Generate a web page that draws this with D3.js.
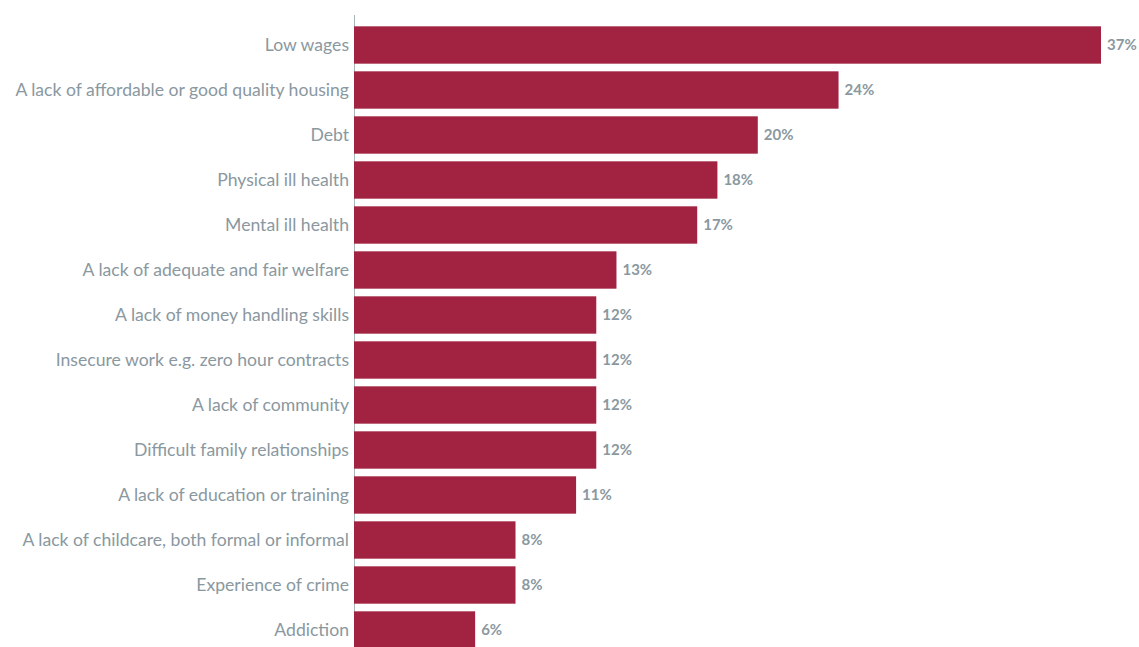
<!DOCTYPE html>
<html>
<head>
<meta charset="utf-8">
<script src="https://cdn.jsdelivr.net/npm/d3@7"></script>
<style>
  html, body { margin: 0; padding: 0; background: #fff; }
  svg { display: block; }
</style>
</head>
<body>
<svg id="chart" width="1139" height="647"></svg>
<script>
// Causes of poverty, share of respondents (%)
const categories = [
  "Low wages",
  "A lack of affordable or good quality housing",
  "Debt",
  "Physical ill health",
  "Mental ill health",
  "A lack of adequate and fair welfare",
  "A lack of money handling skills",
  "Insecure work e.g. zero hour contracts",
  "A lack of community",
  "Difficult family relationships",
  "A lack of education or training",
  "A lack of childcare, both formal or informal",
  "Experience of crime",
  "Addiction"
];
const values = [37, 24, 20, 18, 17, 13, 12, 12, 12, 12, 11, 8, 8, 6];

const svg = d3.select("#chart");
const left = 354;
const barColor = "#A12241";
const textColor = "#8A989F";

const x = d3.scaleLinear().domain([0, 37]).range([left, 1101]);
const y = d3.scaleBand()
  .domain(categories)
  .range([22.5, 652.5])
  .paddingInner(0.17)
  .paddingOuter(0.085);

// vertical axis line
svg.append("line")
  .attr("x1", left + 0.5).attr("x2", left + 0.5)
  .attr("y1", 15).attr("y2", 647)
  .attr("stroke", "#A9B6BB").attr("stroke-width", 1);

// bars
svg.append("g").selectAll("rect")
  .data(categories)
  .join("rect")
  .attr("x", x(0))
  .attr("y", d => y(d))
  .attr("width", (d, i) => x(values[i]) - x(0))
  .attr("height", y.bandwidth())
  .attr("fill", barColor);

// category labels
svg.append("g").selectAll("text")
  .data(categories)
  .join("text")
  .attr("x", left - 5)
  .attr("y", d => y(d) + y.bandwidth() / 2)
  .attr("dy", "0.35em")
  .attr("text-anchor", "end")
  .attr("font-family", "Lato, 'Open Sans', sans-serif")
  .attr("font-size", 17.6)
  .attr("fill", textColor)
  .text(d => d);

// value labels
svg.append("g").selectAll("text")
  .data(categories)
  .join("text")
  .attr("x", (d, i) => x(values[i]) + 6)
  .attr("y", d => y(d) + y.bandwidth() / 2)
  .attr("dy", "0.35em")
  .attr("font-family", "Lato, 'Open Sans', sans-serif")
  .attr("font-weight", 700)
  .attr("font-size", 15)
  .attr("fill", textColor)
  .text((d, i) => values[i] + "%");
</script>
</body>
</html>
